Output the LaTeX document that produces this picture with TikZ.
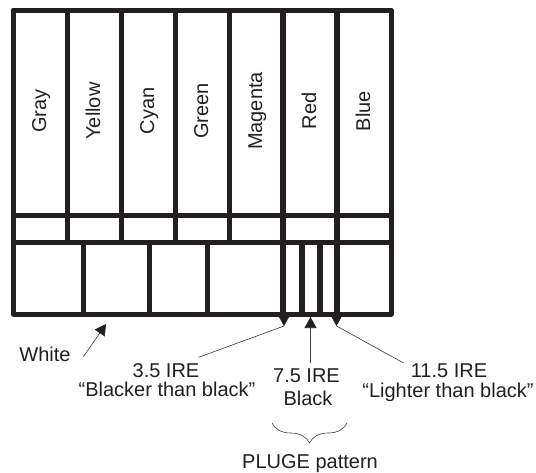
\documentclass[tikz,border=0pt]{standalone}
\usepackage{fontspec}
\setmainfont{Liberation Sans}
\usepackage{xcolor}
\definecolor{ink}{HTML}{231F20}
\definecolor{wire}{HTML}{3C3C3C}
\usepackage{tikz}
\usetikzlibrary{arrows.meta,calc,decorations.pathreplacing}
\tikzset{
  frame/.style={draw=ink,line width=5pt,line join=round},
  bar/.style={draw=ink,line width=6.3pt},
  lbl/.style={font=\fontsize{20}{24}\selectfont,text=ink,inner sep=0pt,anchor=base},
  colname/.style={lbl,rotate=90},
  wire/.style={draw=wire,line width=0.6pt},
  ptr/.style={wire,-{Triangle[length=11pt,width=12pt,color=ink]}},
}

\begin{document}
\begin{tikzpicture}[x=1pt,y=-1pt]
  \useasboundingbox (0,0) rectangle (536,472);
  % test card
  \draw[frame] (13,10) rectangle (391,314);
  \draw[frame] (13,215) -- (391,215);
  \draw[frame] (13,242.5) -- (391,242.5);
  \foreach \x in {67,121,175,229} \draw[frame] (\x,10) -- (\x,242.5);
  \foreach \x in {83.5,149.5,207.5} \draw[frame] (\x,242.5) -- (\x,314);
  \foreach \x in {283,337} \draw[bar] (\x,10) -- (\x,314);
  \foreach \x in {302,320} \draw[bar] (\x,242.5) -- (\x,314);
  % bar names
  \foreach \name [count=\i from 0] in {Gray,Yellow,Cyan,Green,Magenta,Red,Blue}
    \node[colname] (col\i) at (13+54*\i+33,111) {\name};
  % labels
  \node[lbl] (white) at (45,361.5) {White};
  \node[lbl] (ire35) at (166,377) {3.5 IRE};
  \node[lbl] (bb) at (167,396.5) {“Blacker than black”};
  \node[lbl] (ire75) at (306.5,382) {7.5 IRE};
  \node[lbl] (black) at (308,405) {Black};
  \node[lbl] (ire115) at (449,377) {11.5 IRE};
  \node[lbl] (lb) at (448,397) {“Lighter than black”};
  \node[lbl] (pluge) at (310,468) {PLUGE pattern};
  \coordinate (tipw) at (106,324);
  \coordinate (tip35) at (284,326);
  \coordinate (tip75) at (310.5,317);
  \coordinate (tip115) at (336.5,326);
  % pointers
  \draw[ptr] ([xshift=12.5pt,yshift=-2.5pt]white.east) -- (tipw);
  \draw[wire] ([xshift=-1pt,yshift=5.5pt]ire35.north east) -- (tip35);
  \draw[ptr] ([yshift=11pt]tip35) -- (tip35);
  \draw[ptr] ($(tip75 |- ire75.north)+(0,-5.5)$) -- (tip75);
  \draw[wire] ([xshift=-7pt]ire115.north west) -- (tip115);
  \draw[ptr] ([yshift=11pt]tip115) -- (tip115);
  \draw[wire,decorate,decoration={brace,mirror,amplitude=20pt}] (272,423) -- (347,423);
\end{tikzpicture}
\end{document}
